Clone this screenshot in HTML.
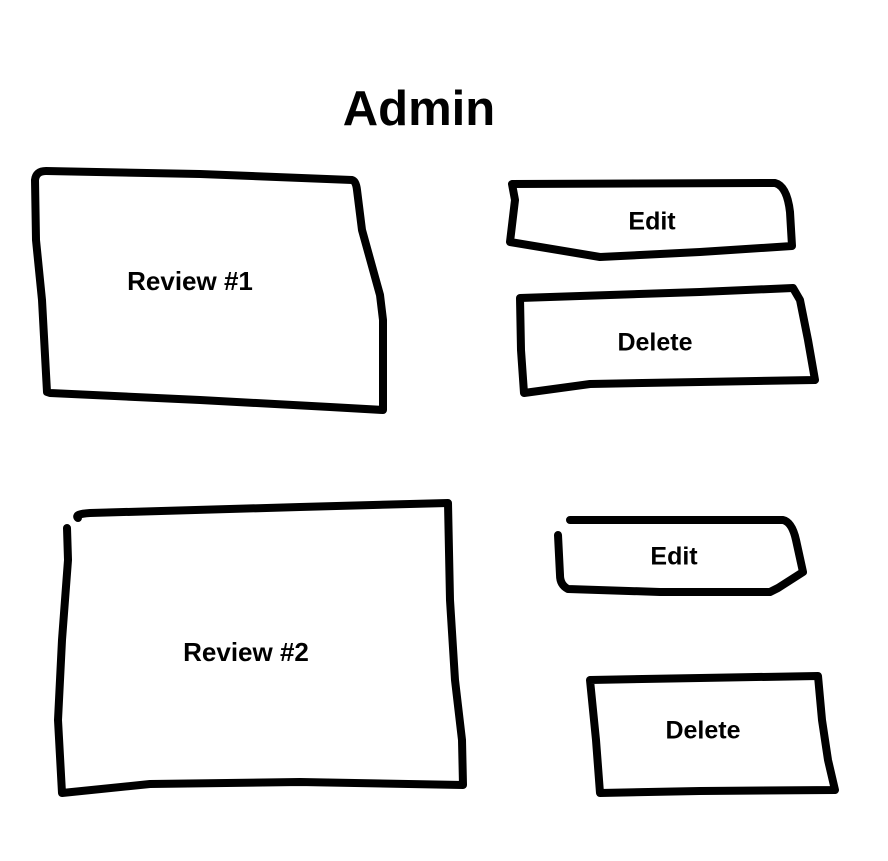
<!DOCTYPE html>
<html><head><meta charset="utf-8"><style>
html,body{margin:0;padding:0;background:#fff;}
svg{display:block}
text{font-family:"Liberation Sans",sans-serif;font-weight:bold;fill:#000;text-anchor:middle;dominant-baseline:middle}
</style></head><body>
<svg width="888" height="861" viewBox="0 0 888 861">
<g fill="none" stroke="#000" stroke-width="8" stroke-linecap="round" stroke-linejoin="round">
<path d="M47,392 L42,300 L36,240 L35,180 Q36,171 46,171 L200,174 L352,180 Q356,181 357,190 L362,230 L380,295 L383,320 L383,410 L330,407 L200,400 L50,393 Z"/>
<path d="M512,184 L775,183 Q787,186 790,212 L792,246 L700,252 L600,257 L510,242 L515,200 Z"/>
<path d="M520,298 L700,292 L793,288 L800,300 L808,340 L815,380 L700,382 L590,384 L524,393 L521,350 Z"/>
<path d="M78,518 Q74,514 90,513 L300,507 L448,503 L450,600 L455,680 L462,740 L463,785 L300,782 L150,784 L62,793 L58,720 L62,640 L68,560 L67,528"/>
<path d="M570,520 L700,520 L783,520 Q792,522 796,540 L803,572 L778,588 L770,592 L660,592 L568,589 Q560,585 560,575 L558,535"/>
<path d="M590,680 L700,678 L818,676 L822,720 L828,760 L835,790 L700,791 L600,793 L596,740 Z"/>
</g>
<text x="419" y="112" font-size="49">Admin</text>
<text x="190" y="283" font-size="26">Review #1</text>
<text x="652" y="223" font-size="25">Edit</text>
<text x="655" y="344" font-size="25">Delete</text>
<text x="674" y="558" font-size="25">Edit</text>
<text x="246" y="654" font-size="26">Review #2</text>
<text x="703" y="732" font-size="25">Delete</text>
</svg>
</body></html>
